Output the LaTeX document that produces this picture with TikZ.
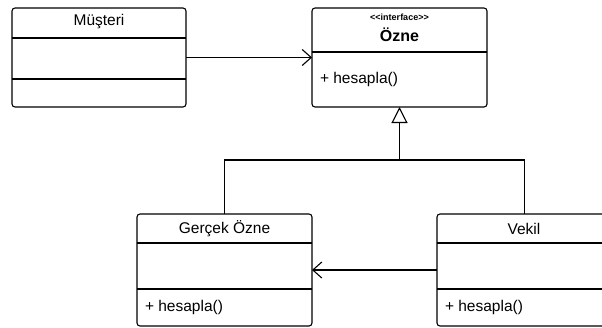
\documentclass[tikz,border=0pt]{standalone}
\usepackage{fontspec}
\setmainfont{Liberation Sans}
\usetikzlibrary{arrows.meta}
\begin{document}
\begin{tikzpicture}[x=1pt,y=-1pt,
  every node/.style={inner sep=0pt, outer sep=0pt},
  box/.style={draw, line width=1.1pt, rounded corners=3pt},
  lbl/.style={font=\fontsize{15.5}{18}\selectfont},
  conn/.style={line width=1.1pt},
  openarrow/.style={-{Straight Barb[length=9pt,width=16pt,line width=1.1pt]}},
  inherit/.style={-{Triangle[open,length=16pt,width=16pt,line width=1.1pt]}}]
\useasboundingbox (0,0) rectangle (602,327);
% Müşteri
\node[box, minimum width=174pt, minimum height=99pt] (m) at (99,57.5) {};
\draw[conn] (12,38) -- (186,38);
\draw[conn] (12,79) -- (186,79);
\node[lbl] (mt) at (99,22) {Müşteri};
% Özne
\node[box, minimum width=175pt, minimum height=99pt] (o) at (399.5,57.5) {};
\draw[conn] (312,52) -- (487,52);
\node[font=\bfseries\fontsize{9}{10}\selectfont] (oi) at (399.5,17) {\symbol{60}\symbol{60}interface\symbol{62}\symbol{62}};
\node[font=\bfseries\fontsize{16}{19}\selectfont] (on) at (399.5,35) {Özne};
\node[lbl, anchor=west] (om) at (320,79) {+ hesapla()};
% Gerçek Özne
\node[box, minimum width=175pt, minimum height=112pt] (g) at (224.5,270) {};
\draw[conn] (137,243) -- (312,243);
\draw[conn] (137,289) -- (312,289);
\node[lbl] (gt) at (224.5,228.5) {Gerçek Özne};
\node[lbl, anchor=west] (gm) at (145,307) {+ hesapla()};
% Vekil
\node[box, minimum width=175pt, minimum height=112pt] (v) at (524.5,270) {};
\draw[conn] (437,243) -- (612,243);
\draw[conn] (437,289) -- (612,289);
\node[lbl] (vt) at (524,228.5) {Vekil};
\node[lbl, anchor=west] (vm) at (445,307) {+ hesapla()};
% connectors
\draw[conn, openarrow] (m.east) -- (o.west);
\draw[conn, openarrow] (v.west) -- (g.east);
\coordinate (j) at (399.5,160);
\draw[conn] (g.north) |- (j) -| (v.north);
\draw[conn, inherit] (j) -- (o.south);
\end{tikzpicture}
\end{document}
